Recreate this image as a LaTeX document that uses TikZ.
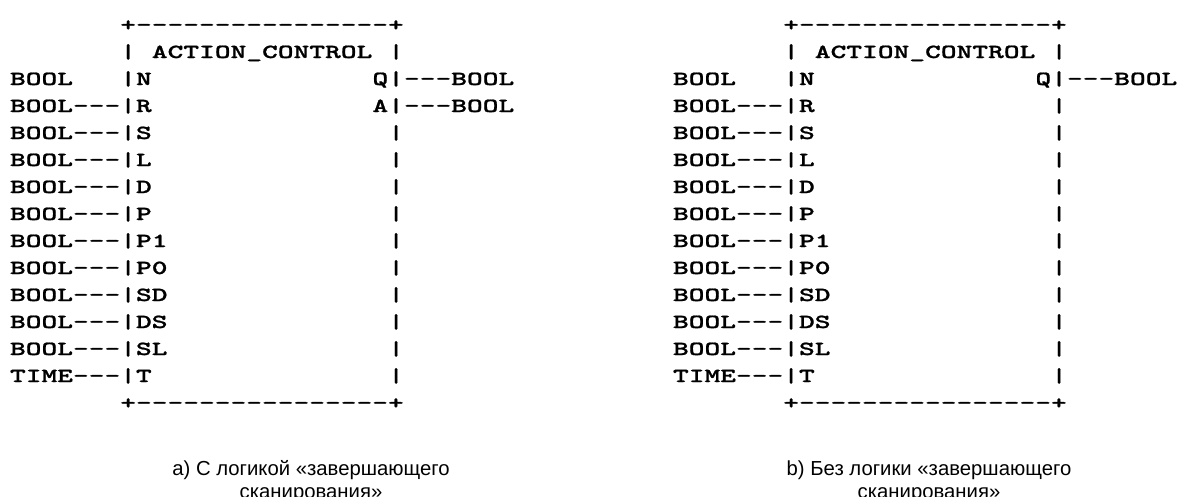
\documentclass[tikz,border=0pt]{standalone}
\usepackage{fontspec}
\setmainfont{Liberation Sans}
\newfontfamily\asciifont{lmmonolt10-bold.otf}[FakeStretch=1.5,FakeBold=1]
\tikzset{
  x=1pt, y=-1pt,
  mono/.style={font=\asciifont\fontsize{20}{20}\selectfont, inner sep=0pt, outer sep=0pt, anchor=base west},
  capt/.style={font=\fontsize{20.3}{20.3}\selectfont, inner sep=0pt, outer sep=0pt, anchor=base},
}
\newcommand\asc[5]{\node[mono] (#1) at ({#2+10+#3*15.76},{31+#4*27}) {#5};}
\begin{document}
\begin{tikzpicture}
\path[fill=white, use as bounding box] (0,0) rectangle (1179,496);
\foreach \ox/\p in {0/a,663/b}{
  \asc{\p-top}{\ox}{7}{0}{+----------------+}
  \asc{\p-tl}{\ox}{7}{1}{|}
  \asc{\p-title}{\ox}{9}{1}{ACTION\_CONTROL}
  \asc{\p-tr}{\ox}{24}{1}{|}
  \asc{\p-inN}{\ox}{0}{2}{BOOL}
  \asc{\p-N}{\ox}{7}{2}{|N}
  \asc{\p-Q}{\ox}{23}{2}{Q|---BOOL}
  \asc{\p-inR}{\ox}{0}{3}{BOOL---|R}
  \foreach \lab [count=\i from 4] in {S,L,D,P,P1,P0,SD,DS,SL}{
    \asc{\p-in\i}{\ox}{0}{\i}{BOOL---|\lab}
    \asc{\p-r\i}{\ox}{24}{\i}{|}
  }
  \asc{\p-inT}{\ox}{0}{13}{TIME---|T}
  \asc{\p-r13}{\ox}{24}{13}{|}
  \asc{\p-bot}{\ox}{7}{14}{+----------------+}
}
\asc{a-A}{0}{23}{3}{A|---BOOL}
\asc{b-r3}{663}{24}{3}{|}
\node[capt] (capa1) at (311,475) {a) С логикой «завершающего};
\node[capt] (capa2) at (311,498) {сканирования»};
\node[capt] (capb1) at (929,475) {b) Без логики «завершающего};
\node[capt] (capb2) at (929,498) {сканирования»};
\end{tikzpicture}
\end{document}
